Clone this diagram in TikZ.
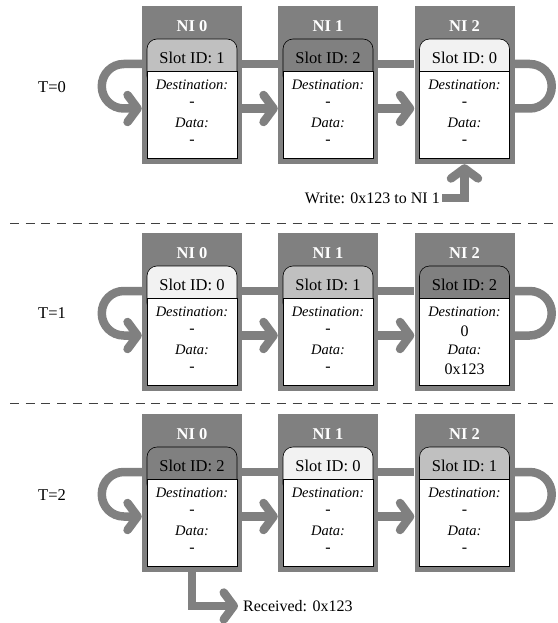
\documentclass[tikz,border=0pt]{standalone}
\usepackage{fontspec}
\setmainfont{Liberation Serif}
\usetikzlibrary{arrows.meta}
\definecolor{nigray}{HTML}{808080}
\definecolor{slotA}{HTML}{F2F2F2}
\definecolor{slotB}{HTML}{C0C0C0}
\definecolor{slotC}{HTML}{808080}
\tikzset{
 nibox/.style={fill=nigray, draw=none, minimum width=100pt, minimum height=158pt, inner sep=0pt},
 nititle/.style={text=white, font=\fontsize{16.5}{19}\selectfont\bfseries, inner sep=0pt},
 slottxt/.style={font=\fontsize{16.5}{19}\selectfont, inner sep=0pt},
 lbl/.style={font=\fontsize{14.5}{17}\selectfont\itshape, inner sep=0pt},
 val/.style={font=\fontsize{16}{19}\selectfont, inner sep=0pt},
 conn/.style={draw=nigray, line width=8.5pt},
 barb/.style={-{Straight Barb[length=10pt,width=27pt,round]}},
 sepline/.style={draw=black!75, line width=1pt, dash pattern=on 9pt off 6.7pt},
 tlabel/.style={font=\fontsize{16.5}{19}\selectfont, inner sep=0pt},
 inner/.style={draw=black, line width=0.6pt},
}
\newcommand\drawniunit[8]{%
 \node[nibox] (#1) at (#2,#3+79) {};
 \node[nititle] (#1-t) at (#2,#3+20) {#4};
 \draw[inner, fill=#6, rounded corners=10pt] (#2-45,#3+33) rectangle (#2+45,#3+80);
 \draw[inner, fill=white] (#2-45,#3+65) rectangle (#2+45,#3+152);
 \node[slottxt] (#1-s) at (#2,#3+52) {Slot ID: #5};
 \node[lbl] (#1-dl) at (#2,#3+79) {Destination:};
 \node[val] (#1-dv) at (#2,#3+98) {#7};
 \node[lbl] (#1-al) at (#2,#3+117) {Data:};
 \node[val] (#1-av) at (#2,#3+136) {#8};
}
\newcommand\drawnirow[2]{%
 \coordinate (#1-up) at (0,#2+58);
 \coordinate (#1-lo) at (0,#2+102.5);
 \draw[conn, barb, rounded corners=22pt] (#10.west |- #1-up) -- ++(-40,0) -- ++(0,44.5) -- (#10.west |- #1-lo);
 \draw[conn] (#10.east |- #1-up) -- (#11.west |- #1-up);
 \draw[conn, barb] (#10.east |- #1-lo) -- (#11.west |- #1-lo);
 \draw[conn] (#11.east |- #1-up) -- (#12.west |- #1-up);
 \draw[conn, barb] (#11.east |- #1-lo) -- (#12.west |- #1-lo);
 \draw[conn, rounded corners=22pt] (#12.east |- #1-up) -- ++(37,0) -- ++(0,44.5) -- (#12.east |- #1-lo);
}
\begin{document}
\begin{tikzpicture}[x=1pt,y=-1pt]
\useasboundingbox (0,0) rectangle (557,623);
% row 1
\drawniunit{A0}{192}{6}{NI 0}{1}{slotB}{-}{-}
\drawniunit{A1}{328}{6}{NI 1}{2}{slotC}{-}{-}
\drawniunit{A2}{464.5}{6}{NI 2}{0}{slotA}{-}{-}
\drawnirow{A}{6}
\node[tlabel] (TA) at (52,87) {T=0};
% row 2
\drawniunit{B0}{192}{233}{NI 0}{0}{slotA}{-}{-}
\drawniunit{B1}{328}{233}{NI 1}{1}{slotB}{-}{-}
\drawniunit{B2}{464.5}{233}{NI 2}{2}{slotC}{0}{0x123}
\drawnirow{B}{233}
\node[tlabel] (TB) at (52,313) {T=1};
% row 3
\drawniunit{C0}{192}{414}{NI 0}{2}{slotC}{-}{-}
\drawniunit{C1}{328}{414}{NI 1}{0}{slotA}{-}{-}
\drawniunit{C2}{464.5}{414}{NI 2}{1}{slotB}{-}{-}
\drawnirow{C}{414}
\node[tlabel] (TC) at (52,495) {T=2};
% separators
\coordinate (s1a) at (10,223); \coordinate (s1b) at (556,223);
\coordinate (s2a) at (10,403); \coordinate (s2b) at (556,403);
\draw[sepline] (s1a) -- (s1b);
\draw[sepline] (s2a) -- (s2b);
% write / received
\node[val, anchor=east, inner sep=2pt] (wr) at (442,198) {Write: 0x123 to NI 1};
\draw[conn, barb] (wr.east) -| (A2.south);
\node[val, anchor=west, inner sep=0pt, inner xsep=5pt] (rc) at (238,606) {Received: 0x123};
\draw[conn, barb] (C0.south) |- (rc.west);
\end{tikzpicture}
\end{document}
